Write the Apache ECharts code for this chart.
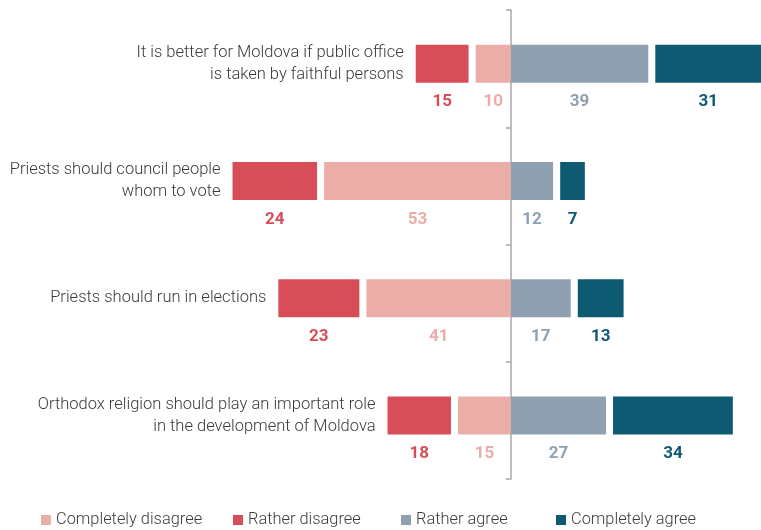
<!DOCTYPE html>
<html>
<head>
<meta charset="utf-8">
<script src="https://cdn.jsdelivr.net/npm/echarts@6/dist/echarts.min.js"></script>
<style>
  html, body { margin: 0; padding: 0; background: #fff; }
  #chart { width: 761px; height: 530px; }
</style>
</head>
<body>
<div id="chart"></div>
<script>
// Attitudes towards the church's role in public life (%)
const statements = [
  'It is better for Moldova if public office\nis taken by faithful persons',
  'Priests should council people\nwhom to vote',
  'Priests should run in elections',
  'Orthodox religion should play an important role\nin the development of Moldova'
];
const completelyDisagree = [10, 53, 41, 15];
const ratherDisagree     = [15, 24, 23, 18];
const ratherAgree        = [39, 12, 17, 27];
const completelyAgree    = [31, 7, 13, 34];

const colors = {
  completelyDisagree: '#EBADA8',
  ratherDisagree: '#D74E58',
  ratherAgree: '#8FA1B0',
  completelyAgree: '#0F5A73'
};

// white space between the inner and outer segment, in value units
const GAP = 2;
const BAR_W = 38;
const X_MIN = -145;
const X_MAX = 71;

function valueLabel(color) {
  return {
    show: true,
    position: 'bottom',
    distance: 11,
    color: color,
    fontFamily: 'Roboto',
    fontWeight: 'bold',
    fontSize: 17,
    formatter: p => Math.abs(p.value)
  };
}

function segment(name, values, color, negative) {
  return {
    name: name,
    type: 'bar',
    stack: 'total',
    barWidth: BAR_W,
    barGap: '-100%',
    data: values.map(v => negative ? -v : v),
    itemStyle: { color: color },
    label: valueLabel(color),
    emphasis: { disabled: true }
  };
}

function spacer(sign) {
  return {
    type: 'bar',
    stack: 'total',
    barWidth: BAR_W,
    barGap: '-100%',
    silent: true,
    data: statements.map(() => sign * GAP),
    itemStyle: { color: 'rgba(0,0,0,0)' },
    emphasis: { disabled: true }
  };
}

// invisible bar spanning the whole disagree side, carrying the statement text at its left end
const leftExtent = completelyDisagree.map((v, i) => -(v + GAP + ratherDisagree[i]));

const legendItems = [
  { name: 'Completely disagree', left: 41 },
  { name: 'Rather disagree', left: 233 },
  { name: 'Rather agree', left: 401 },
  { name: 'Completely agree', left: 556 }
];

const axisGrey = '#a8a8a8';

const chart = echarts.init(document.getElementById('chart'), null, { renderer: 'canvas' });

chart.setOption({
  animation: false,
  textStyle: { fontFamily: 'Roboto' },
  grid: [
    // bars
    { left: 0, right: 0, top: 5, height: 469 },
    // centre divider with its row ticks
    { left: 0, right: 0, top: 10, height: 469 }
  ],
  legend: legendItems.map(item => ({
    data: [item.name],
    left: item.left,
    top: 512,
    icon: 'rect',
    itemWidth: 10,
    itemHeight: 10,
    selectedMode: false,
    padding: 0,
    textStyle: { fontFamily: 'Roboto', fontSize: 16.4, color: '#3c3c3c', fontWeight: 300 }
  })),
  xAxis: [
    { type: 'value', gridIndex: 0, min: X_MIN, max: X_MAX, show: false },
    { type: 'value', gridIndex: 1, min: X_MIN, max: X_MAX, show: false }
  ],
  yAxis: [
    {
      type: 'category',
      gridIndex: 0,
      inverse: true,
      data: statements,
      show: false
    },
    {
      type: 'category',
      gridIndex: 1,
      inverse: true,
      data: statements,
      axisLabel: { show: false },
      axisLine: { show: true, onZero: true, lineStyle: { color: axisGrey, width: 1.5 } },
      axisTick: { show: true, length: 5, lineStyle: { color: axisGrey, width: 1.5 } },
      splitLine: { show: false }
    }
  ],
  series: [
    segment('Completely disagree', completelyDisagree, colors.completelyDisagree, true),
    spacer(-1),
    segment('Rather disagree', ratherDisagree, colors.ratherDisagree, true),
    segment('Rather agree', ratherAgree, colors.ratherAgree, false),
    spacer(1),
    segment('Completely agree', completelyAgree, colors.completelyAgree, false),
    {
      type: 'bar',
      stack: 'statement',
      barWidth: BAR_W,
      barGap: '-100%',
      silent: true,
      z: 1,
      data: leftExtent,
      itemStyle: { color: 'rgba(0,0,0,0)' },
      emphasis: { disabled: true },
      label: {
        show: true,
        position: 'left',
        distance: 12,
        align: 'right',
        fontFamily: 'Roboto',
        fontWeight: 300,
        fontSize: 16.5,
        lineHeight: 22,
        color: '#3a3a3a',
        formatter: p => statements[p.dataIndex]
      }
    },
    // empty series keeps the divider axis registered with its grid
    { type: 'bar', xAxisIndex: 1, yAxisIndex: 1, data: [], silent: true }
  ]
});
</script>
</body>
</html>
